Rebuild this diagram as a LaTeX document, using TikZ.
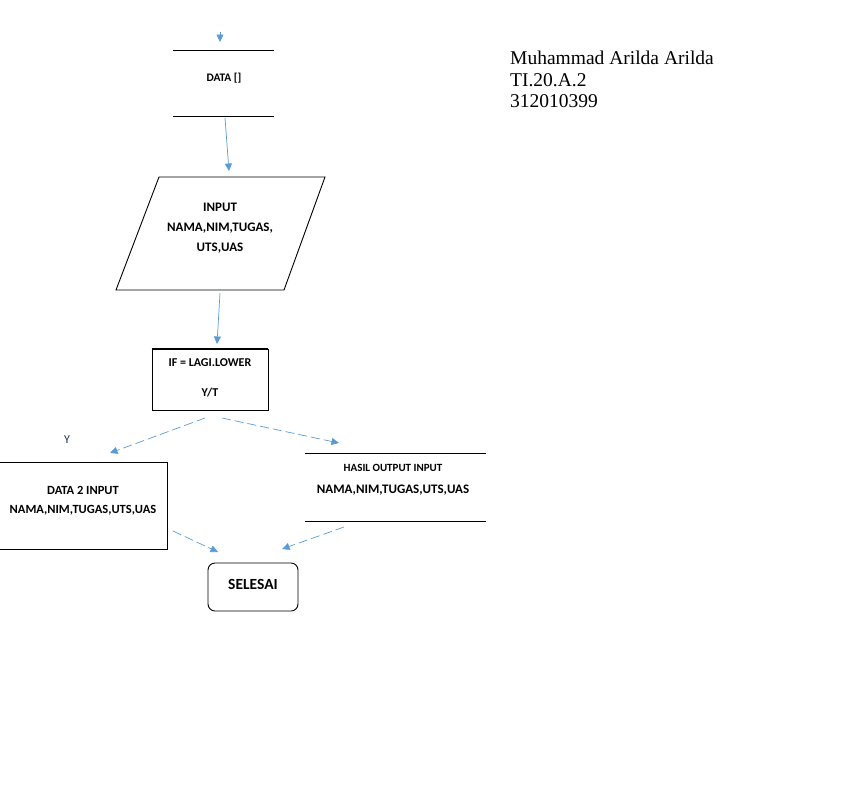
\documentclass[tikz,border=0pt]{standalone}
\usepackage{fontspec}
\setmainfont{Carlito}
\newfontfamily\serifname{Liberation Serif}
\usetikzlibrary{arrows.meta}
\definecolor{arrowblue}{RGB}{91,155,213}
\definecolor{ydark}{RGB}{30,45,75}
\tikzset{
  flow/.style={draw=arrowblue, line width=0.7pt, -{Triangle[length=7.5pt,width=7pt]}},
  flowdash/.style={flow, dash pattern=on 9pt off 4pt},
  edge/.style={line width=0.9pt},
  lbl/.style={font=\bfseries, align=center, inner sep=0pt},
}
\begin{document}
\begin{tikzpicture}[x=1pt,y=-1pt]
\useasboundingbox (0,0) rectangle (848,796);
% top arrow
\coordinate (topstart) at (220,32);
\coordinate (topend) at (220,42);
\draw[flow] (topstart) -- (topend);
% DATA []
\draw[edge] (173,50) -- (274,50);
\draw[edge] (173,116) -- (274,116);
\node[lbl, font=\fontsize{11.5}{13}\bfseries\selectfont] (data) at (224,78) {DATA []};
\coordinate (d1) at (225,118);
\coordinate (d2) at (229,171);
\draw[flow] (d1) -- (d2);
% parallelogram
\draw[edge] (159,177) -- (325,177) -- (284,290) -- (116,290) -- cycle;
\node[lbl, font=\fontsize{13}{20}\bfseries\selectfont] (input) at (220,228) {INPUT\\NAMA,NIM,TUGAS,\\UTS,UAS};
\coordinate (p1) at (220,293);
\coordinate (p2) at (217,344);
\draw[flow] (p1) -- (p2);
% IF box
\node[draw, line width=0.9pt, minimum width=116pt, minimum height=61pt, inner sep=0pt] (ifbox) at (210,379.5) {};
\draw[line width=1.8pt] (ifbox.north west) -- (ifbox.north east);
\node[lbl, font=\fontsize{12}{14}\bfseries\selectfont] (iftext) at (210,363) {IF = LAGI.LOWER};
\node[lbl, font=\fontsize{12}{14}\bfseries\selectfont] (yt) at (210,393) {Y/T};
\coordinate (i1) at (205,418);
\coordinate (i2) at (110,453);
\coordinate (i3) at (222,418);
\coordinate (i4) at (339,443);
\draw[flowdash] (i1) -- (i2);
\draw[flowdash] (i3) -- (i4);
\node[font=\fontsize{12}{14}\selectfont, text=ydark, inner sep=0pt] (ylabel) at (67,440) {Y};
% DATA 2 box
\draw[edge] (-1,462) rectangle (167,549);
\node[lbl, font=\fontsize{12.5}{19}\bfseries\selectfont] (data2) at (83,500.5) {DATA 2 INPUT\\NAMA,NIM,TUGAS,UTS,UAS};
% HASIL
\draw[edge] (305,453) -- (486,453);
\draw[edge] (305,521) -- (486,521);
\node[lbl, font=\fontsize{11}{13}\bfseries\selectfont] (hasil1) at (393,468) {HASIL OUTPUT INPUT};
\node[lbl, font=\fontsize{13}{15}\bfseries\selectfont] (hasil2) at (393,490) {NAMA,NIM,TUGAS,UTS,UAS};
\coordinate (h1) at (173,531);
\coordinate (h2) at (218,552);
\coordinate (h3) at (344,527);
\coordinate (h4) at (282,549);
\draw[flowdash] (h1) -- (h2);
\draw[flowdash] (h3) -- (h4);
% SELESAI
\node[draw, line width=0.9pt, rounded corners=7pt, minimum width=90pt, minimum height=48pt, inner sep=0pt] (selesai) at (253,587) {};
\node[lbl, font=\fontsize{15.5}{18}\bfseries\selectfont] (seltext) at (253,584) {SELESAI};
% name
\node[anchor=north west, align=left, inner sep=0pt, font=\fontsize{19.5}{21.5}\serifname\selectfont] (name) at (510,51) {Muhammad Arilda Arilda\\TI.20.A.2\\312010399};
\end{tikzpicture}
\end{document}
